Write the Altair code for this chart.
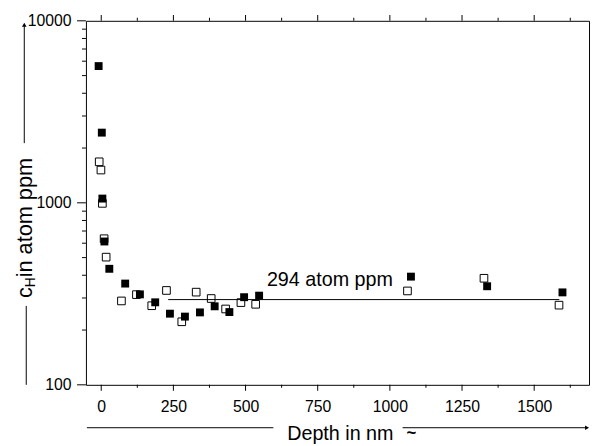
import altair as alt
import pandas as pd

# ---- data ----
filled_x = [-9, 2, 4, 11, 28, 83, 134, 187, 238, 290, 342, 393, 444, 495, 547, 1073, 1337, 1598]
filled_y = [5640, 2430, 1055, 613, 434, 360, 314, 284, 246, 237, 250, 270, 251, 303, 309, 393, 348, 322]
open_x = [-7, -1, 4, 10, 17, 70, 122, 175, 226, 279, 329, 381, 431, 484, 535, 1061, 1326, 1586]
open_y = [1680, 1514, 993, 635, 503, 289, 313, 272, 330, 222, 323, 298, 261, 283, 277, 328, 385, 274]
fit_x = [232, 1587]
fit_y = [294, 294]
fit_label = ["294 atom ppm"]
fit_label_x = [574]
fit_label_y = [375]

x_major_ticks = [0, 250, 500, 750, 1000, 1250, 1500]
x_minor_ticks = [125, 375, 625, 875, 1125, 1375, 1625]
y_major_ticks = [100, 1000, 10000]
y_minor_ticks = [200, 300, 400, 500, 600, 700, 800, 900,
                 2000, 3000, 4000, 5000, 6000, 7000, 8000, 9000]

FONT = "Liberation Sans"

filled = pd.DataFrame({"x": filled_x, "y": filled_y})
opened = pd.DataFrame({"x": open_x, "y": open_y})
fit = pd.DataFrame({"x": fit_x, "y": fit_y})
lab = pd.DataFrame({"x": fit_label_x, "y": fit_label_y, "t": fit_label})

xscale = alt.Scale(domain=[-53, 1690], nice=False, zero=False)
yscale = alt.Scale(type="log", domain=[100, 10000], nice=False)

x_axis = alt.Axis(
    orient="bottom", values=x_major_ticks, format="d",
    ticks=False, domain=False,
    title=None, grid=False, labelFontSize=16, labelPadding=14,
    labelOverlap=False, labelFlush=False, labelFont=FONT, labelColor="black",
)
y_axis = alt.Axis(
    orient="left", values=y_major_ticks, format="d",
    ticks=False, domain=False,
    title=None, grid=False, labelFontSize=16, labelPadding=15,
    labelOverlap=False, labelFlush=False, labelFont=FONT, labelColor="black",
)

X = lambda f: alt.X(f, scale=xscale, axis=x_axis)
Y = lambda f: alt.Y(f, scale=yscale, axis=y_axis)

open_pts = alt.Chart(opened).mark_point(
    shape="square", filled=False, size=60, color="black", strokeWidth=1, opacity=1
).encode(x=X("x:Q"), y=Y("y:Q"))

filled_pts = alt.Chart(filled).mark_point(
    shape="square", filled=True, size=64, color="black", opacity=1
).encode(x=X("x:Q"), y=Y("y:Q"))

fit_line = alt.Chart(fit).mark_line(color="black", strokeWidth=1).encode(
    x=X("x:Q"), y=Y("y:Q"))

fit_text = alt.Chart(lab).mark_text(
    align="left", baseline="middle", fontSize=20, font=FONT, color="black"
).encode(x=X("x:Q"), y=Y("y:Q"), text="t:N")

# ---- axis ticks (major / minor) placed through the scales ----
def xticks(vals, yc, length):
    return alt.Chart(pd.DataFrame({"v": vals})).mark_tick(
        color="black", thickness=1, size=length, orient="vertical", opacity=1
    ).encode(x=X("v:Q"), y=alt.value(yc))

def yticks(vals, xc, length):
    return alt.Chart(pd.DataFrame({"v": vals})).mark_tick(
        color="black", thickness=1, size=length, orient="horizontal", opacity=1
    ).encode(y=Y("v:Q"), x=alt.value(xc))

tick_layers = [
    xticks(x_major_ticks, 372, 6), xticks(x_minor_ticks, 370.5, 3),
    xticks(x_major_ticks, -3, 6), xticks(x_minor_ticks, -1.5, 3),
    yticks(y_major_ticks, -4.5, 9), yticks(y_minor_ticks, -2, 4),
]

# ---- axis titles drawn as annotations (with arrows) ----
def txt(t, x, y, size, align="left", angle=0, weight="normal"):
    return alt.Chart(pd.DataFrame({"t": [t]})).mark_text(
        align=align, baseline="middle", fontSize=size, font=FONT, color="black",
        angle=angle, fontWeight=weight
    ).encode(x=alt.value(x), y=alt.value(y), text="t:N")

def hline(x0, x1, y):
    return alt.Chart(pd.DataFrame({"a": [0]})).mark_rule(color="black", strokeWidth=1).encode(
        x=alt.value(x0), x2=alt.value(x1), y=alt.value(y))

def vline(y0, y1, x):
    return alt.Chart(pd.DataFrame({"a": [0]})).mark_rule(color="black", strokeWidth=1).encode(
        y=alt.value(y0), y2=alt.value(y1), x=alt.value(x))

def arrow(shape, x, y):
    return alt.Chart(pd.DataFrame({"a": [0]})).mark_point(
        shape=shape, filled=True, size=22, color="black", opacity=1
    ).encode(x=alt.value(x), y=alt.value(y))

annot = [
    txt("Depth in nm", 204, 419, 20),
    txt("~", 330, 418, 17, align="center", weight="bold"),
    hline(1, 190, 412.5), hline(321, 508, 412.5), arrow("triangle-right", 508, 412.5),
    txt("c", -62, 281, 22, angle=270),
    txt("H", -56, 270, 14, angle=270),
    txt(" in atom ppm", -62, 260, 22, angle=270),
    vline(4, 124, -62.5), arrow("triangle-up", -62.5, 4),
    vline(289, 369, -60.5),
]

chart = alt.layer(
    open_pts, filled_pts, fit_line, fit_text, *tick_layers, *annot
).properties(
    width=510, height=369,
    autosize=alt.AutoSizeParams(type="none"),
    padding={"left": 79, "top": 10, "right": 2, "bottom": 57},
    background="white",
).configure_view(stroke="black", strokeWidth=1)

chart.save("out.html", embed_options={"renderer": "svg", "actions": False})
